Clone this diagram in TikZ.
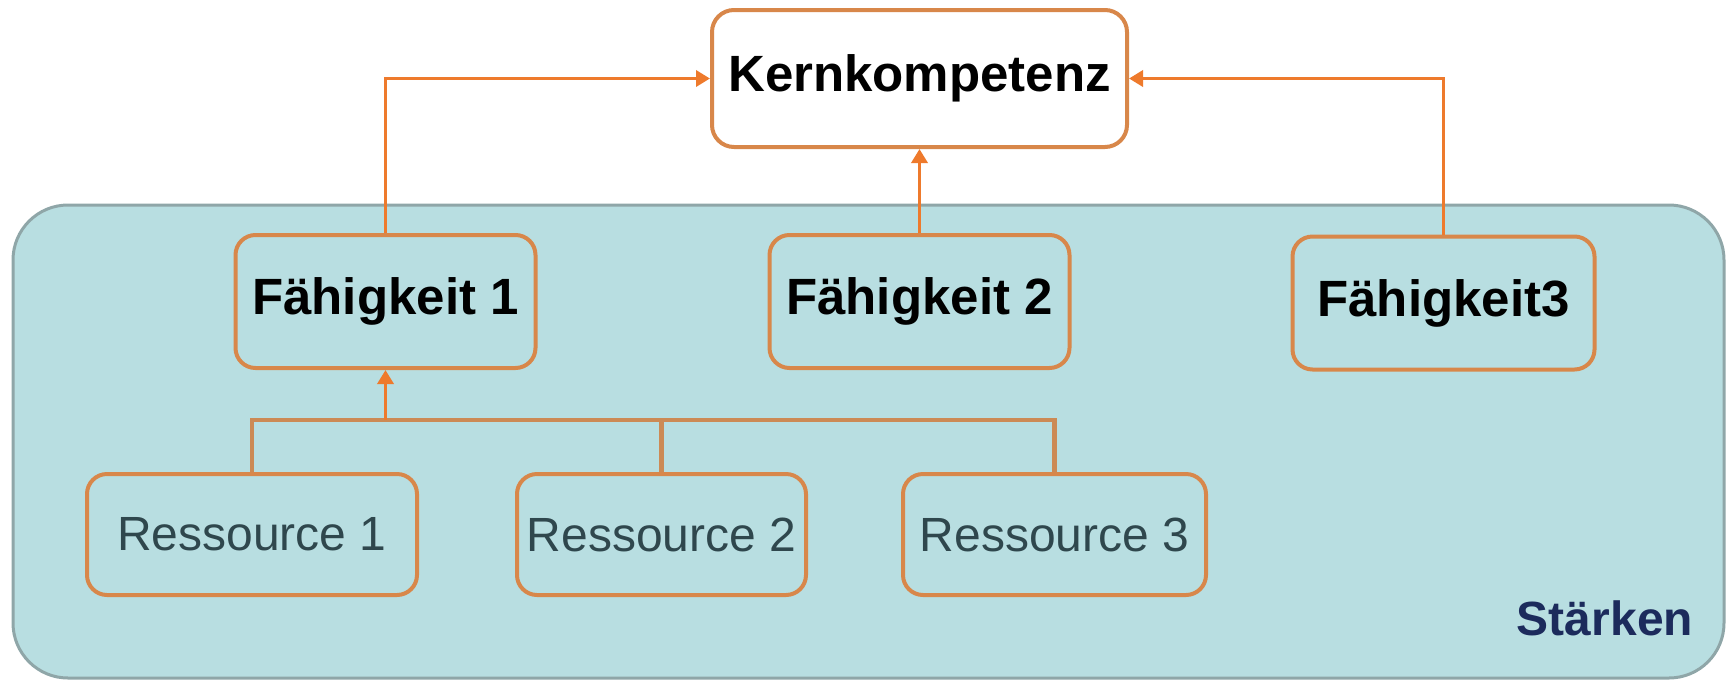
\documentclass[tikz,border=0pt]{standalone}
\usepackage{fontspec}
\setmainfont{Liberation Sans}
\usepackage{xcolor}
\usepackage{tikz}
\usetikzlibrary{arrows.meta,positioning,calc}
\definecolor{tealBg}{HTML}{B8DEE1}
\definecolor{tealRim}{HTML}{8FA6A8}
\definecolor{boxRim}{HTML}{D8874A}
\definecolor{lineOr}{HTML}{EE7A2C}
\definecolor{busBr}{HTML}{CC8A55}
\definecolor{resText}{HTML}{2F474D}
\definecolor{navy}{HTML}{1C2B5C}
\tikzset{
  kbox/.style={rectangle, rounded corners=22pt, draw=boxRim, line width=4pt, fill=white, inner sep=0pt, font=\fontsize{51}{60}\selectfont\bfseries},
  capbox/.style={rectangle, rounded corners=20pt, draw=boxRim, line width=4pt, inner sep=0pt, minimum height=133pt, minimum width=300pt, font=\fontsize{51}{60}\selectfont\bfseries},
  resbox/.style={rectangle, rounded corners=20pt, draw=boxRim, line width=4pt, inner sep=0pt, minimum height=121pt, font=\fontsize{48}{56}\selectfont, text=resText},
  arrow/.style={-{Triangle[length=14pt,width=16pt]}, line width=3.5pt, draw=lineOr},
  busline/.style={line width=4.5pt, draw=busBr}
}

\begin{document}
\begin{tikzpicture}[x=1pt,y=-1pt]
  \useasboundingbox (0,0) rectangle (1735,681);
  % background area
  \draw[fill=tealBg, draw=tealRim, line width=3pt, rounded corners=55pt] (13,205) rectangle (1724,678);
  \node[navy, font=\fontsize{48}{56}\selectfont\bfseries] (st) at (1605,618) {Stärken};
  \node[kbox, minimum width=415pt, minimum height=137pt] (kern) at (919.5,78.5) {Kernkompetenz};
  \node[capbox] (f1) at (385.5,301.5) {Fähigkeit 1};
  \node[capbox] (f2) at (919.5,301.5) {Fähigkeit 2};
  \node[capbox, minimum width=302pt] (f3) at (1443.5,303) {Fähigkeit3};
  \node[resbox, minimum width=330pt] (r1) at (252,534.5) {Ressource 1};
  \node[resbox, minimum width=289pt] (r2) at (661.5,534.5) {Ressource 2};
  \node[resbox, minimum width=303pt] (r3) at (1054.5,534.5) {Ressource 3};
  \coordinate (bus) at (385.5,420);
  \draw[busline] (r1.north) -- (r1.north |- bus) -- (r3.north |- bus) -- (r3.north);
  \draw[busline] (r2.north) -- (r2.north |- bus);
  \draw[arrow] (bus) -- (f1.south);
  \draw[arrow] (f1.north) |- (kern.west);
  \draw[arrow] (f3.north) |- (kern.east);
  \draw[arrow] (f2.north) -- (kern.south);
\end{tikzpicture}
\end{document}
